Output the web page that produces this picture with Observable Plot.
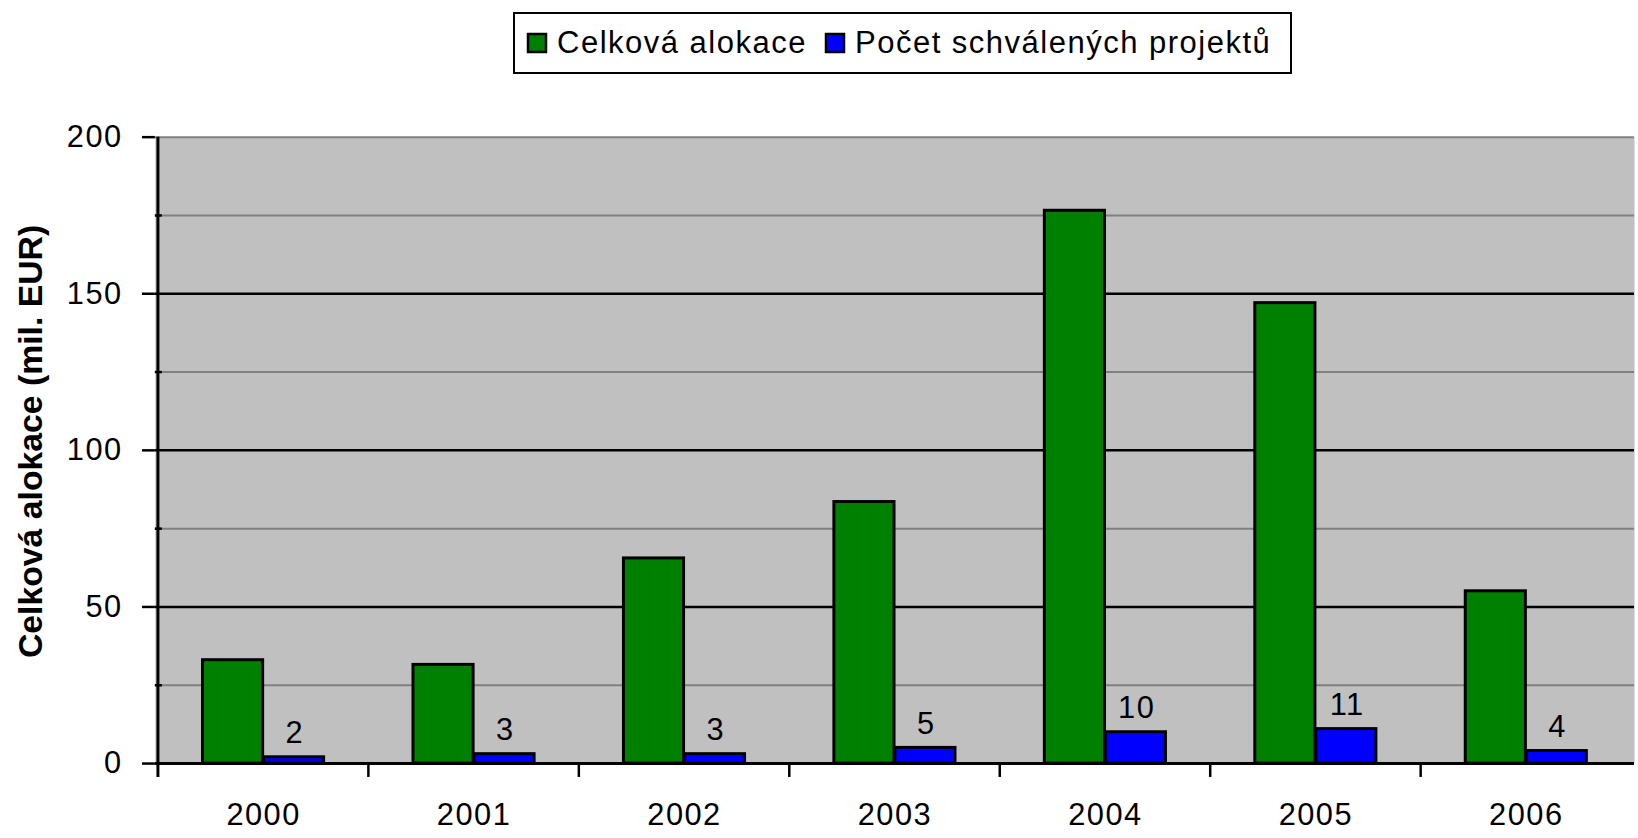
<!DOCTYPE html>
<html>
<head>
<meta charset="utf-8">
<script src="https://cdn.jsdelivr.net/npm/d3@7"></script>
<script src="https://cdn.jsdelivr.net/npm/@observablehq/plot@0.6"></script>
<style>
  html, body { margin: 0; padding: 0; background: #fff; overflow: hidden; width: 1638px; height: 838px; }
  #legend { position: relative; height: 90px; width: 1638px; }
  #legend .lg-swatches {
    position: absolute; left: 513px; top: 12px; width: 779px; height: 62px;
    box-sizing: border-box; border: 2.5px solid #000; margin: 0; padding: 0 0 0 13px;
    display: flex; align-items: center; flex-wrap: nowrap; min-height: 0;
    font-family: "Liberation Sans", Arial, sans-serif; font-size: 31px; letter-spacing: 1.5px; color: #000;
    background: #fff;
  }
  #legend .lg-swatch { display: inline-flex; align-items: center; margin-right: 19px; white-space: nowrap; }
  #legend .lg-swatch > svg { margin-right: 11px; overflow: visible; }
  #legend .lg-swatch > svg rect { stroke: #000; stroke-width: 2.5px; }
  #chart { width: 1638px; overflow: hidden; }
</style>
</head>
<body>
<div id="legend"></div>
<div id="chart"></div>
<script>
const years = ["2000", "2001", "2002", "2003", "2004", "2005", "2006"];
const allocation = [33, 31.5, 65.5, 83.5, 176.5, 147, 55];
const projects = [2, 3, 3, 5, 10, 11, 4];
const yTicks = [0, 50, 100, 150, 200];
const yMinorTicks = [25, 75, 125, 175];
const yMajorGrid = [50, 100, 150];
const yTop = [200];
const seriesNames = ["Celková alokace", "Počet schválených projektů"];
const seriesColors = ["#008000", "#0000ff"];
const yTitle = "Celková alokace (mil. EUR)";

const data = years.map((year, i) => ({year, alloc: allocation[i], count: projects[i]}));

const W = 1650, H = 748, ML = 156, MR = 4, MT = 47, MB = 70;
const frameW = W - ML - MR;
const bw = frameW / years.length;
const outerInset = 45;

const font = '"Liberation Sans", Arial, sans-serif';

const chart = Plot.plot({
  width: W, height: H,
  marginLeft: ML, marginRight: MR, marginTop: MT, marginBottom: MB,
  style: {fontFamily: font, fontSize: "31px", letterSpacing: "1.5px", background: "transparent", color: "#000", overflow: "visible"},
  x: {type: "band", domain: years, padding: 0},
  y: {domain: [0, 200]},
  marks: [
    Plot.frame({fill: "#c0c0c0", stroke: null}),
    Plot.ruleY(yMinorTicks, {y: d => d, stroke: "#808080", strokeWidth: 2}),
    Plot.ruleY(yTop, {y: d => d, stroke: "#808080", strokeWidth: 2}),
    Plot.ruleY(yMajorGrid, {y: d => d, stroke: "#000", strokeWidth: 2.5}),
    Plot.barY(data, {x: "year", y: "alloc", fill: seriesColors[0], stroke: "#000", strokeWidth: 3,
      insetLeft: outerInset, insetRight: bw / 2}),
    Plot.barY(data, {x: "year", y: "count", fill: seriesColors[1], stroke: "#000", strokeWidth: 3,
      insetLeft: bw / 2, insetRight: outerInset}),
    Plot.ruleY([0], {y: d => d, stroke: "#000", strokeWidth: 3}),
    Plot.ruleX([years[0]], {x: d => d, dx: -bw / 2, insetBottom: -14, stroke: "#000", strokeWidth: 3}),
    Plot.ruleX(years.slice(1), {x: d => d, y1: 0, y2: 0, dx: -bw / 2, insetBottom: -14, stroke: "#000", strokeWidth: 2.5}),
    Plot.ruleY(yMinorTicks, {y: d => d, insetRight: frameW - 7, stroke: "#000", strokeWidth: 2.5}),
    Plot.axisY({ticks: yTicks, tickSize: 13, tickPadding: 20, strokeWidth: 2.5, label: null, fontSize: 31}),
    Plot.axisX({tickSize: 0, tickPadding: 40, label: null, fontSize: 31}),
    Plot.text(data, {x: "year", y: "count", text: d => String(d.count), dx: 31.5, dy: -14,
      lineAnchor: "bottom", fontSize: 31, fill: "#000"}),
    Plot.text([yTitle], {text: d => d, frameAnchor: "left", textAnchor: "middle", rotate: -90, dx: -114, dy: -9,
      lineAnchor: "bottom", fontSize: 34, fontWeight: "bold", fill: "#000"})
  ]
});
chart.querySelectorAll("text").forEach(t => { if (t.textContent === yTitle) t.style.letterSpacing = "0px"; });
document.getElementById("chart").appendChild(chart);

const legend = Plot.legend({
  color: {type: "ordinal", domain: seriesNames, range: seriesColors},
  swatchSize: 18,
  className: "lg"
});
document.getElementById("legend").appendChild(legend);
</script>
</body>
</html>
